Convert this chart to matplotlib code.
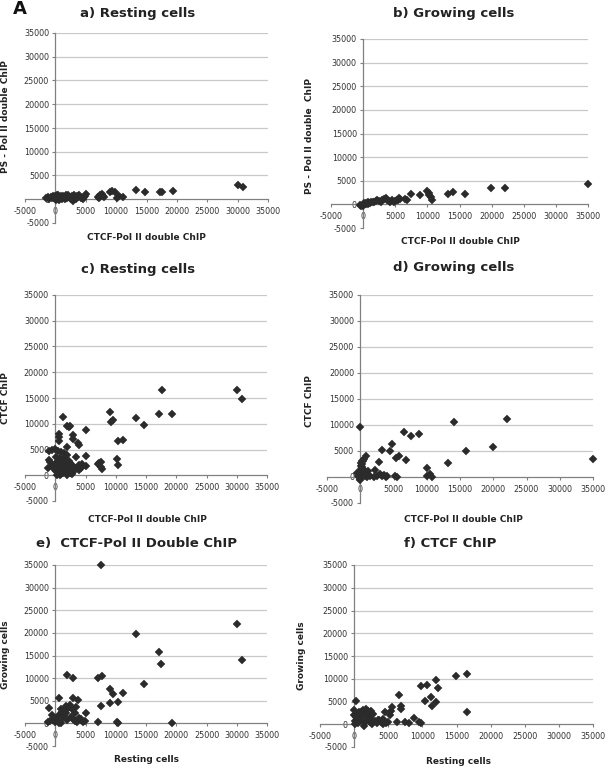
import matplotlib
matplotlib.use("Agg")
import matplotlib.pyplot as plt

# ---------------- data ----------------
# a) Resting cells: CTCF-Pol II double ChIP (x) vs PS-Pol II double ChIP (y)
a_x = [-1500, -1200, -1000, -800, -600, -400, -200, 0, 100, 300, 500, 700, 900, 1100,
       1300, 1500, 1700, 1900, 2100, 2300, 2500, 2700, 2900, 3100, 3300, 3600, 3900,
       4200, 4500, 4700, 5000, 4900, 2000, 1000, 600, 2800, 3400, 1600, 200, 3800,
       7000, 7200, 7400, 7600, 7800, 8000, 9000, 9400, 9800, 10200, 10500, 11200,
       13300, 14700, 17200, 17500, 19300, 30000, 30900]
a_y = [200, 400, 100, 500, 300, 600, 200, 700, -200, 400, 800, 300, 600, 100,
       700, 400, 800, 200, 900, 500, 0, 600, -300, 800, 300, 600, 800,
       200, 0, 500, 1100, 700, 600, 500, -100, 300, 100, 0, 900, 400,
       500, 300, 900, 1200, 600, 400, 1500, 1700, 1600, 200, 600, 500,
       1900, 1500, 1600, 1500, 1700, 3000, 2500]

# b) Growing cells: CTCF-Pol II double ChIP (x) vs PS-Pol II double ChIP (y)
b_x = [-500, -300, 0, 100, 200, 400, 500, 700, 800, 1000, 1200, 1500, 1700, 2000,
       2200, 2500, 2800, 3000, 3300, 3500, 3700, 4000, 4200, 4500, 4800, 5000, 5300,
       5500, 5600, 5800, 6500, 6800, 7500, 8800, 10000, 10200, 10300, 10500, 10700,
       13200, 14000, 15900, 19900, 22100, 35000]
b_y = [-200, -400, -300, 0, 200, 300, 100, 400, 100, 300, 500, 600, 400, 700,
       900, 800, 600, 900, 1200, 1300, 1000, 800, 500, 1000, 600, 700, 900,
       1000, 1300, 1100, 1200, 900, 2200, 2000, 2800, 2500, 2000, 1500, 1000,
       2300, 2700, 2200, 3500, 3400, 4400]

# c) Resting cells: CTCF-Pol II double ChIP (x) vs CTCF ChIP (y)
c_x = [17600, 30100, 30900, 9000, 9200, 9600, 13300, 14700, 17200, 19300, 10400, 11200,
       10200, 10400, 7000, 7200, 7500, 7600, 7800, 1200, 2000, 2200, 2500, 5000, 3000,
       3000, 3800, 4000, 2000, 3500, 5000, 4000, 4500, 5000, 4000, 600, 600, 600,
       -1000, -500, 0, 500, 1000, 1500, 2000, -1200, -1000, -800, -500, -200, 0, 200,
       400, 600, 800, 1000, 1200, 1400, 1600, 1800, 2000, 2200, 2400, 2600, 2800,
       3000, 3200, 300, 700, 1100, 1500, 1900, 2300, 2700, 500, 900, 1300, 1700, 2100,
       2500, 100, 800, 1600, 2400, 3100, 1000, 1800, 4300]
c_y = [16500, 16500, 14800, 12300, 10400, 10700, 11100, 9700, 11800, 11900, 6600, 6900,
       3200, 2000, 2100, 2300, 2500, 1600, 1300, 11300, 9500, 9300, 9500, 8700, 7800,
       7000, 6300, 5800, 5500, 3500, 3700, 2000, 2200, 1800, 1000, 8000, 7500, 6600,
       4800, 5000, 5100, 4800, 4500, 4300, 4000, 1500, 3000, 2500, 1800, 1200, 2200, 800,
       2800, 1500, 3300, 2000, 500, 2600, 1200, 3000, 1800, 600, 2400, 1000, 2000,
       700, 1500, 0, 1000, 2900, 3400, 100, 2700, 300, 2000, 1300, 800, 1900, 1100,
       1700, 3500, 100, 2200, 500, 1200, 200, 400, 1500]

# d) Growing cells: CTCF-Pol II double ChIP (x) vs CTCF ChIP (y)
d_x = [35000, 22100, 19900, 15900, 14100, 13200, 10000, 10000, 10500, 10800, 8800, 7600,
       6600, 6900, 5800, 5400, 5600, 5300, 4800, 4500, 3300, 2800, 2200, 3000, 3500,
       4000, 0, 900, 500, 200, 200, 300, -500, 1200, -300, 0, 100, 200, 300, 400, 500,
       600, 700, 800, 100, 300, 500, 0, 200, 400, 1000, 1500, 2000, 2500, 3200, 3800,
       150, 350, 600]
d_y = [3500, 11200, 5800, 5000, 10600, 2700, 1700, 200, 600, 0, 8300, 7900,
       8700, 3200, 4100, 3700, 0, 100, 6400, 5000, 5200, 2800, 1400, 500, 300,
       200, 9700, 4000, 3400, 3000, 2500, 2000, 700, 1100, 200, -300, 1500, 800, 1200,
       300, 600, 200, 900, 100, 2200, 1800, 1000, -500, 400, 1600, 0, 100, 0, 200, 100,
       0, 2700, 3100, 500]

# e) CTCF-Pol II Double ChIP: resting cells (x) vs growing cells (y)
e_x = [7500, 30100, 30900, 13300, 17200, 17500, 14700, 11200, 9500, 9000, 9000, 10300,
       7800, 7000, 7500, 7000, 10200, 10300, 19300, 3000, 2000, 700, -1000, -500, 3000,
       3800, 5000, 4300, 3500, -1200, -800, -400, 0, 300, 600, 900, 1200, 1500, 1800,
       2100, 2400, 2700, 3300, 3600, 3900, 4200, 4600, 4900, 200, 800, 1400, 2000,
       2600, 3200, 1000, 1700, 2300, 2900, 600, 1100]
e_y = [35000, 22000, 14000, 19800, 15800, 13200, 8800, 6800, 6600, 7600, 4400, 4700,
       10500, 10100, 3800, 300, 300, 0, 100, 10000, 10700, 5600, 3400, 1800, 5600,
       5200, 2200, 1000, 3600, 200, 500, 800, 300, 600, 100, 3200, 1500, 2800, 3900,
       3500, 4000, 3100, 600, 200, 1200, 800, 300, 500, 1000, 400, 1800, 700,
       1300, 2400, 0, 2300, 3700, 900, 1900, 2500]

# f) CTCF ChIP: resting cells (x) vs growing cells (y)
f_x = [16500, 14900, 16500, 12000, 12300, 10700, 9800, 11200, 12000, 10400, 11400, 6600,
       6900, 6900, 5600, 5400, 5300, 4500, 8700, 9500, 9800, 7400, 8000, 6300, 5000,
       4300, 300, 0, 0, 100, 300, 500, 700, 900, 1100, 1300, 1500, 1700, 1900, 2100,
       2300, 2500, 2700, 3000, 3300, 3600, 3900, 4200, 4700, 200, 600, 1000, 1400,
       1800, 2200, 2600, 800, 1600, 2400, 3500]
f_y = [11100, 10600, 2700, 9700, 8000, 8700, 8300, 5900, 5000, 5100, 4100, 6400,
       4100, 3300, 3800, 3000, 2000, 2800, 1300, 400, 300, 600, 300, 500, 600,
       0, 5200, 3200, 2000, 800, 1500, 300, 2600, 1000, 2100, 3100, 600, 3400, 1700,
       2900, 400, 1200, 2200, 800, 200, 1000, 500, 1100, 300, 0, 1900, 2800, -300,
       2400, 1500, 100, 1200, 500, 3000, 900]

titles = ["a) Resting cells", "b) Growing cells", "c) Resting cells",
          "d) Growing cells", "e)  CTCF-Pol II Double ChIP", "f) CTCF ChIP"]
xlabels = ["CTCF-Pol II double ChIP", "CTCF-Pol II double ChIP",
           "CTCF-Pol II double ChIP", "CTCF-Pol II double ChIP",
           "Resting cells", "Resting cells"]
ylabels = ["PS - Pol II double ChIP", "PS - Pol II double  ChIP", "CTCF ChIP",
           "CTCF ChIP", "Growing cells", "Growing cells"]
ticks = [-5000, 0, 5000, 10000, 15000, 20000, 25000, 30000, 35000]

series = [(a_x, a_y), (b_x, b_y), (c_x, c_y), (d_x, d_y), (e_x, e_y), (f_x, f_y)]

# ---------------- layout (pixels) ----------------
W, H = 608, 768
# (x at -5000, x at 35000, y at 35000, y at -5000) in pixels from top-left
boxes = [(25, 268, 33, 223), (331, 588, 39, 228),
         (25, 267, 295, 501), (327, 593, 295, 503),
         (25, 267, 565, 746), (320, 593, 565, 747)]
title_pos = [(138, 13), (454, 14), (138, 269), (454, 268), (137, 543), (450, 543)]
xlabel_pos = [(146, 238), (460, 242), (147, 519), (463, 519), (146, 760), (459, 761)]
ylabel_pos = [(6, 117), (310, 136), (6, 398), (310, 401), (6, 655), (301, 656)]

fig = plt.figure(figsize=(W / 100, H / 100), dpi=100)
fig.patch.set_facecolor("white")

grid_c = "#c8c8c8"
axis_c = "#808080"
mark_c = "#2b2b2b"
text_c = "#222222"

for i, (xs, ys) in enumerate(series):
    x0, x1, y0, y1 = boxes[i]
    ax = fig.add_axes([x0 / W, 1 - y1 / H, (x1 - x0) / W, (y1 - y0) / H])
    ax.set_xlim(-5000, 35000)
    ax.set_ylim(-5000, 35000)
    ax.patch.set_alpha(0)
    for s in ["top", "right"]:
        ax.spines[s].set_visible(False)
    ax.spines["left"].set_position(("data", 0))
    ax.spines["bottom"].set_position(("data", 0))
    for s in ["left", "bottom"]:
        ax.spines[s].set_color(axis_c)
        ax.spines[s].set_linewidth(0.9)
    ax.set_xticks(ticks)
    ax.set_yticks(ticks)
    ax.set_xticklabels([str(t) for t in ticks])
    ax.set_yticklabels([str(t) for t in ticks])
    ax.tick_params(axis="both", direction="out", length=2.5, width=0.8,
                   color=axis_c, labelsize=5.8, labelcolor="#333333", pad=2)
    ax.tick_params(axis="x", pad=3)
    ax.hlines([5000, 10000, 15000, 20000, 25000, 30000, 35000], 0, 35000,
              colors=grid_c, linewidth=0.9, zorder=0.5)
    ax.plot(xs, ys, linestyle="none", marker="D", markersize=3.7,
            color=mark_c, markeredgewidth=0.3, markeredgecolor=mark_c,
            zorder=3, clip_on=False)

    tx, ty = title_pos[i]
    fig.text(tx / W, 1 - ty / H, titles[i], ha="center", va="center",
             fontsize=9.5, fontweight="bold", color=text_c)
    lx, ly = xlabel_pos[i]
    fig.text(lx / W, 1 - ly / H, xlabels[i], ha="center", va="center",
             fontsize=6.5, fontweight="bold", color=text_c)
    yx, yy = ylabel_pos[i]
    fig.text(yx / W, 1 - yy / H, ylabels[i], ha="center", va="center",
             rotation=90, fontsize=6.5, fontweight="bold", color=text_c)

fig.text(20 / W, 1 - 9 / H, "A", ha="center", va="center", fontsize=13,
         fontweight="bold", color="#111111")

fig.savefig("out.png", dpi=100, facecolor="white")
